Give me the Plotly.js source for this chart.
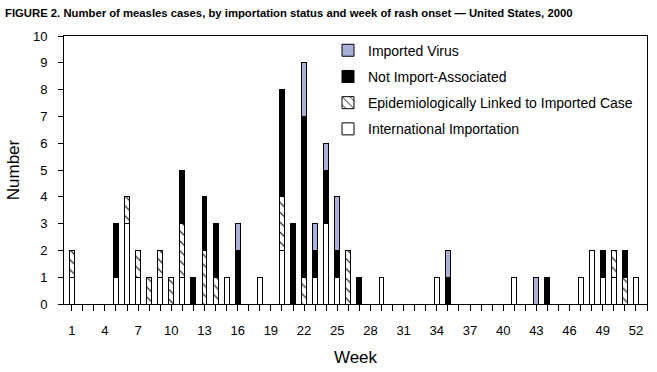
<!DOCTYPE html>
<html>
<head>
<meta charset="utf-8">
<script src="https://cdn.plot.ly/plotly-3.0.1.min.js"></script>
<style>html,body{margin:0;padding:0;background:#fff;}</style>
</head>
<body>
<div id="chart" style="width:657px;height:372px;"></div>
<script>
const weeks = [1,2,3,4,5,6,7,8,9,10,11,12,13,14,15,16,17,18,19,20,21,22,23,24,25,26,
  27,28,29,30,31,32,33,34,35,36,37,38,39,40,41,42,43,44,45,46,47,48,49,50,51,52];
// International Importation
const intlImport = [1,0,0,0,1,3,1,0,1,0,1,0,0,0,1,0,0,1,0,2,0,0,1,3,1,0,
  0,0,1,0,0,0,0,1,0,0,0,0,0,0,1,0,0,0,0,0,1,2,1,1,0,1];
// Epidemiologically Linked to Imported Case
const epiLinked = [1,0,0,0,0,1,1,1,1,1,2,0,2,1,0,0,0,0,0,2,0,1,0,0,0,2,
  0,0,0,0,0,0,0,0,0,0,0,0,0,0,0,0,0,0,0,0,0,0,0,1,1,0];
// Not Import-Associated
const notImport = [0,0,0,0,2,0,0,0,0,0,2,1,2,2,0,2,0,0,0,4,3,6,1,2,1,0,
  1,0,0,0,0,0,0,0,1,0,0,0,0,0,0,0,0,1,0,0,0,0,1,0,1,0];
// Imported Virus
const importedVirus = [0,0,0,0,0,0,0,0,0,0,0,0,0,0,0,1,0,0,0,0,0,2,1,1,2,0,
  0,0,0,0,0,0,0,0,1,0,0,0,0,0,0,0,1,0,0,0,0,0,0,0,0,0];
const xTickVals = [1,4,7,10,13,16,19,22,25,28,31,34,37,40,43,46,49,52];
const xTickText = ['1','4','7','10','13','16','19','22','25','28','31','34','37','40','43','46','49','52'];

const nz = a => a.map(v => v === 0 ? null : v);
const FONT = 'Liberation Sans, Arial, Helvetica, sans-serif';
const line = {color:'#000', width:1};
const W = 0.45;

const traces = [
  {type:'bar', name:'International Importation', x:weeks, y:nz(intlImport), width:W,
   marker:{color:'#ffffff', line:line}, legendgroup:'a', legendrank:4},
  {type:'bar', name:'Epidemiologically Linked to Imported Case', x:weeks, y:nz(epiLinked), width:W,
   marker:{color:'#ffffff', line:line, pattern:{shape:'\\', fgcolor:'#000', bgcolor:'#ffffff', size:7, solidity:0.15}},
   legendgroup:'b', legendrank:3},
  {type:'bar', name:'Not Import-Associated', x:weeks, y:nz(notImport), width:W,
   marker:{color:'#000000', line:line}, legendgroup:'c', legendrank:2},
  {type:'bar', name:'Imported Virus', x:weeks, y:nz(importedVirus), width:W,
   marker:{color:'#aab0d8', line:line}, legendgroup:'d', legendrank:1}
];

const layout = {
  width:657, height:372,
  margin:{l:64, r:10, t:36, b:68, pad:0},
  paper_bgcolor:'#fff', plot_bgcolor:'#fff',
  font:{family:FONT, color:'#000', size:13},
  barmode:'stack',
  showlegend:true,
  title:{text:'<b>FIGURE 2. Number of measles cases, by importation status and week of rash onset — United States, 2000</b>',
    font:{family:FONT, size:11.3, color:'#000'}, x:5/657, xanchor:'left', xref:'container',
    y:1-13/372, yanchor:'middle', yref:'container'},
  xaxis:{range:[0.3,53], tickmode:'array', tickvals:xTickVals, ticktext:xTickText,
    ticks:'outside', ticklen:6, tickcolor:'#000', tickwidth:1,
    minor:{tickmode:'linear', tick0:1, dtick:1, ticks:'outside', ticklen:6, tickcolor:'#000', tickwidth:1, showgrid:false},
    showline:true, linecolor:'#000', linewidth:1, mirror:true, showgrid:false, zeroline:false,
    tickfont:{size:13, family:FONT}, ticklabelstandoff:8,
    title:{text:'Week', font:{size:17, family:FONT}, standoff:14}, automargin:false},
  yaxis:{range:[0,10], dtick:1, tick0:0, ticks:'outside', ticklen:5, tickcolor:'#000',
    showline:true, linecolor:'#000', linewidth:1, mirror:true, showgrid:false, zeroline:false,
    tickfont:{size:13, family:FONT}, ticklabelstandoff:8,
    title:{text:'Number', font:{size:17, family:FONT}, standoff:8}, automargin:false},
  legend:{x:(328-64)/583, xanchor:'left', y:1.005, yanchor:'top', bgcolor:'rgba(0,0,0,0)',
    font:{size:14, family:FONT, color:'#000'}, traceorder:'grouped', tracegroupgap:5,
    borderwidth:0}
};

Plotly.newPlot('chart', traces, layout, {displayModeBar:false, staticPlot:true});
</script>
</body>
</html>
